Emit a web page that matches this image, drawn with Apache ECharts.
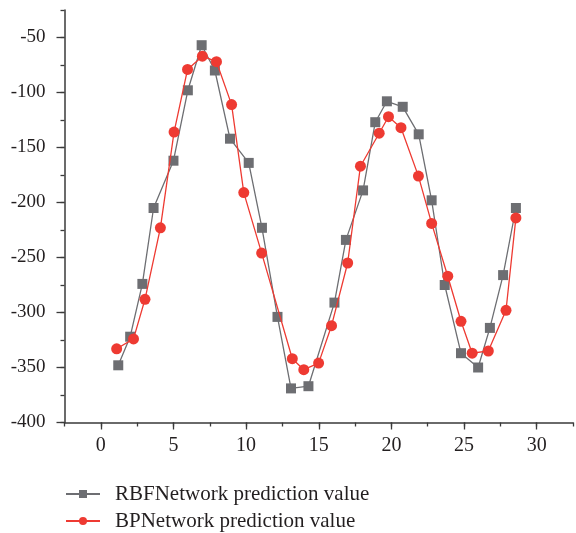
<!DOCTYPE html>
<html>
<head>
<meta charset="utf-8">
<script src="https://cdn.jsdelivr.net/npm/echarts@6/dist/echarts.min.js"></script>
<style>html,body{margin:0;padding:0;background:#fff}#c{width:576px;height:533px}</style>
</head>
<body>
<div id="c"></div>
<script>
const rbfX = [1.2, 2.02, 2.86, 3.63, 5.0, 5.99, 6.94, 7.85, 8.89, 10.18, 11.09, 12.16, 13.09, 14.29, 16.08, 16.87, 18.05, 18.89, 19.69, 20.78, 21.88, 22.77, 23.67, 24.79, 25.97, 26.78, 27.69, 28.57];
const rbfY = [-348, -322, -274, -205, -162, -98, -57, -80, -142, -164, -223, -304, -369, -367, -291, -234, -189, -127, -108, -113, -138, -198, -275, -337, -350, -314, -266, -205];
const bpX = [1.09, 2.25, 3.04, 4.1, 5.04, 5.97, 6.99, 7.96, 9.0, 9.84, 11.07, 13.18, 13.97, 14.99, 15.88, 16.99, 17.87, 19.16, 19.8, 20.66, 21.86, 22.77, 23.88, 24.79, 25.56, 26.67, 27.89, 28.57];
const bpY = [-333, -324, -288, -223, -136, -79, -67, -72, -111, -191, -246, -342, -352, -346, -312, -255, -167, -137, -122, -132, -176, -219, -267, -308, -337, -335, -298, -214];
const xMajorTicks = [0, 5, 10, 15, 20, 25, 30];
const yMajorTicks = [-400, -350, -300, -250, -200, -150, -100, -50];
const seriesNames = ['RBFNetwork prediction value', 'BPNetwork prediction value'];

const gray = '#6d6e72';
const red = '#ee3a32';
const axisColor = '#3a3a3a';
const font = '"Liberation Serif", "DejaVu Serif", serif';

const chart = echarts.init(document.getElementById('c'), null, {renderer: 'canvas'});
const xBase = {
  type: 'value', min: -2.5, max: 32.5, interval: 2.5, position: 'bottom',
  splitLine: {show: false}
};
const yBase = {
  type: 'value', min: -400, max: -25, interval: 25, position: 'left',
  splitLine: {show: false}
};
chart.setOption({
  animation: false,
  backgroundColor: '#fff',
  grid: {left: 64.5, right: -3, top: 10, bottom: 110.5, containLabel: false},
  xAxis: [
    Object.assign({}, xBase, {
      axisLine: {onZero: false, lineStyle: {color: axisColor, width: 1.5}},
      axisTick: {show: true, length: 4, inside: false, lineStyle: {color: axisColor, width: 1.3}},
      axisLabel: {
        margin: 13, color: '#231f20', fontFamily: font, fontSize: 20,
        formatter: v => (Math.abs(v % 5) < 1e-9 ? String(v) : '')
      }
    }),
    Object.assign({}, xBase, {
      axisLine: {show: false, onZero: false},
      axisTick: {show: true, length: 7, customValues: xMajorTicks, lineStyle: {color: axisColor, width: 1.3}},
      axisLabel: {show: false}
    })
  ],
  yAxis: [
    Object.assign({}, yBase, {
      axisLine: {show: true, onZero: false, lineStyle: {color: axisColor, width: 1.5}},
      axisTick: {show: true, length: 4, inside: false, lineStyle: {color: axisColor, width: 1.3}},
      axisLabel: {
        margin: 19, color: '#231f20', fontFamily: font, fontSize: 19,
        formatter: v => (yMajorTicks.indexOf(v) >= 0 ? String(v) : '')
      }
    }),
    Object.assign({}, yBase, {
      axisLine: {show: false, onZero: false},
      axisTick: {show: true, length: 8, customValues: yMajorTicks, lineStyle: {color: axisColor, width: 1.3}},
      axisLabel: {show: false}
    })
  ],
  legend: {
    orient: 'vertical', left: 65, top: 483, padding: 0,
    itemWidth: 34, itemHeight: 10, itemGap: 5,
    data: seriesNames,
    textStyle: {fontFamily: font, fontSize: 21, color: '#231f20', lineHeight: 22, padding: [0, 0, 0, 10]}
  },
  series: [
    {
      name: seriesNames[0], type: 'line', xAxisIndex: 0, yAxisIndex: 0,
      data: rbfX.map((x, i) => [x, rbfY[i]]),
      symbol: 'rect', symbolSize: 10,
      lineStyle: {color: gray, width: 1.3},
      itemStyle: {color: gray},
      z: 2
    },
    {
      name: seriesNames[1], type: 'line', xAxisIndex: 0, yAxisIndex: 0,
      data: bpX.map((x, i) => [x, bpY[i]]),
      symbol: 'circle', symbolSize: 11,
      lineStyle: {color: red, width: 1.3},
      itemStyle: {color: red},
      z: 3
    }
  ]
});
</script>
</body>
</html>
